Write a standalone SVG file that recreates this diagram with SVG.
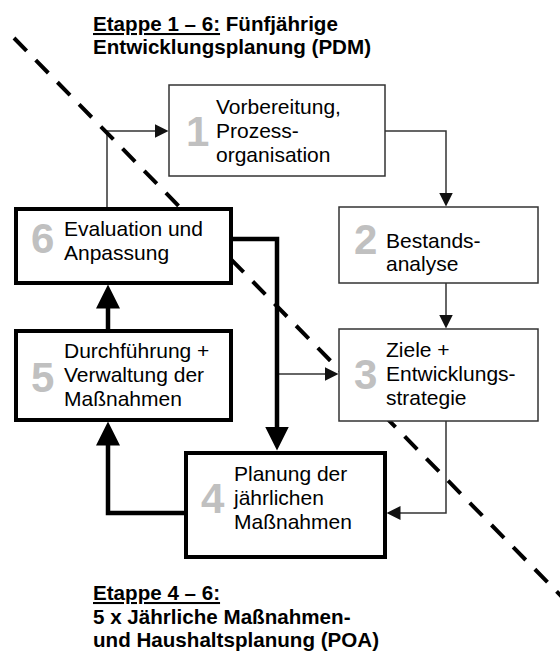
<svg xmlns="http://www.w3.org/2000/svg" width="560" height="652" viewBox="0 0 560 652">
<style>
.bg{fill:#fff}
.thin{fill:#fff;stroke:#333;stroke-width:1.5}
.thick{fill:#fff;stroke:#000;stroke-width:4}
.t{font-family:"Liberation Sans",Arial,sans-serif;font-size:21px;fill:#000}
.d{font-family:"Liberation Sans",Arial,sans-serif;font-size:42px;font-weight:bold;fill:#c0c0c0}
.h{font-family:"Liberation Sans",Arial,sans-serif;font-size:20.6px;font-weight:bold;fill:#000}
.ct{fill:none;stroke:#333;stroke-width:1.5}
.ck{fill:none;stroke:#000;stroke-width:4.5}
.dash{stroke:#000;stroke-width:4;stroke-dasharray:18 13}
</style>
<defs>
<marker id="ah" markerUnits="userSpaceOnUse" viewBox="0 0 14 14" markerWidth="14" markerHeight="14" refX="0.5" refY="7" orient="auto"><path d="M0,0 L14,7 L0,14 z" fill="#111"/></marker>
<marker id="ahk" markerUnits="userSpaceOnUse" viewBox="0 0 24 24" markerWidth="24" markerHeight="24" refX="0.5" refY="12" orient="auto"><path d="M0,0 L24,12 L0,24 z" fill="#000"/></marker>
</defs>
<rect class="bg" x="0" y="0" width="560" height="652"/>
<g id="title1">
<text class="h" x="93" y="31"><tspan text-decoration="underline">Etappe 1 – 6:</tspan> Fünfjährige</text>
<text class="h" x="93" y="54">Entwicklungsplanung (PDM)</text>
</g>
<g id="title2">
<text class="h" x="93" y="600" text-decoration="underline">Etappe 4 – 6:</text>
<text class="h" x="93" y="624">5 x Jährliche Maßnahmen-</text>
<text class="h" x="93" y="647">und Haushaltsplanung (POA)</text>
</g>
<g id="connectors">
<polyline class="ct" points="107,207 107,131 155,131" marker-end="url(#ah)"/>
<polyline class="ct" points="385,131 446,131 446,193" marker-end="url(#ah)"/>
<polyline class="ct" points="446,283 446,315" marker-end="url(#ah)"/>
<polyline class="ct" points="446,421 446,513 400,513" marker-end="url(#ah)"/>
<polyline class="ct" points="277,374 325,374" marker-end="url(#ah)"/>
<polyline class="ck" points="184,513 108,513 108,445" marker-end="url(#ahk)"/>
<polyline class="ck" points="108,329 108,308" marker-end="url(#ahk)"/>
<polyline class="ck" points="232,239 277,239 277,427" marker-end="url(#ahk)"/>
</g>
<line id="divider" class="dash" x1="14" y1="38" x2="565" y2="600"/>
<g id="n1">
<rect class="thin" x="169" y="85" width="216" height="91"/>
<text class="d" x="186" y="146">1</text>
<text class="t" x="216" y="114">Vorbereitung,</text>
<text class="t" x="216" y="138">Prozess-</text>
<text class="t" x="216" y="162">organisation</text>
</g>
<g id="n2">
<rect class="thin" x="339" y="207" width="199" height="76"/>
<text class="d" x="354" y="254">2</text>
<text class="t" x="386" y="248">Bestands-</text>
<text class="t" x="386" y="271">analyse</text>
</g>
<g id="n3">
<rect class="thin" x="339" y="329" width="199" height="92"/>
<text class="d" x="354" y="389">3</text>
<text class="t" x="386" y="357">Ziele +</text>
<text class="t" x="386" y="381">Entwicklungs-</text>
<text class="t" x="386" y="405">strategie</text>
</g>
<g id="n4">
<rect class="thick" x="186" y="453" width="199" height="104"/>
<text class="d" x="201" y="513">4</text>
<text class="t" x="234" y="481">Planung der</text>
<text class="t" x="234" y="505">jährlichen</text>
<text class="t" x="234" y="529">Maßnahmen</text>
</g>
<g id="n5">
<rect class="thick" x="16" y="331" width="215" height="89"/>
<text class="d" x="31" y="392">5</text>
<text class="t" x="64" y="358">Durchführung +</text>
<text class="t" x="64" y="382">Verwaltung der</text>
<text class="t" x="64" y="406">Maßnahmen</text>
</g>
<g id="n6">
<rect class="thick" x="16" y="209" width="215" height="74"/>
<text class="d" x="31" y="253">6</text>
<text class="t" x="64" y="236">Evaluation und</text>
<text class="t" x="64" y="260">Anpassung</text>
</g>
</svg>
